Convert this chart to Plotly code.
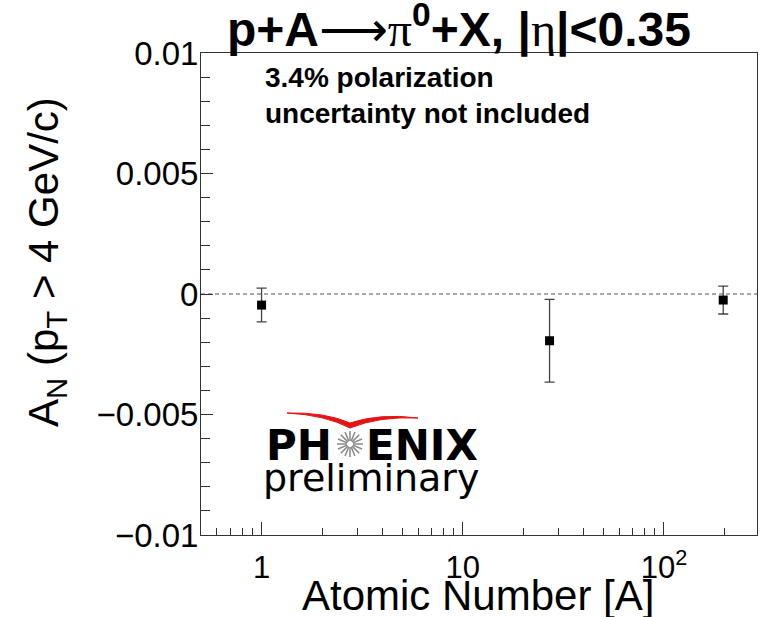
import math
import plotly.graph_objects as go

# ---- data ----
atomic_number = [1, 27, 197]
an_values = [-0.00046, -0.00194, -0.00025]
an_errors = [0.00070, 0.00172, 0.00058]

y_tickvals = [0.01, 0.005, 0, -0.005, -0.01]
y_ticktext = ["0.01", "0.005", "0", "\u22120.005", "\u22120.01"]
x_tickvals = [1, 10, 100]
x_ticktext = ["1", "10", "10<sup>2</sup>"]
x_minor_vals = [0.6, 0.7, 0.8, 0.9, 2, 3, 4, 5, 6, 7, 8, 9,
                20, 30, 40, 50, 60, 70, 80, 90, 200]
x_range = [0.5, 290]
y_range = [-0.01, 0.01]

W, H = 762, 617
L, R, T, B = 201, 5, 53, 82
PW, PH = W - L - R, H - T - B
FONT = "Liberation Sans, Arial, Helvetica, sans-serif"
SERIF = "Liberation Serif, Times New Roman, serif"


def px(xp):
    return (xp - L) / PW


def py(yp):
    return (H - B - yp) / PH


fig = go.Figure()
fig.add_trace(go.Scatter(
    x=atomic_number, y=an_values,
    mode="markers",
    marker=dict(symbol="square", size=9, color="black"),
    error_y=dict(type="data", array=an_errors, visible=True,
                 color="#444", thickness=1.3, width=5),
    showlegend=False,
))

shapes = []
# dashed zero line
shapes.append(dict(type="line", xref="paper", yref="y", x0=0, x1=1, y0=0, y1=0,
                   line=dict(color="#555", width=1, dash="4px,3px"), layer="below"))

# PHENIX logo: star burst
cx, cy, rad = 350, 444, 13
for k in range(16):
    a = math.pi * k / 8
    shapes.append(dict(type="line", xref="paper", yref="paper",
                       x0=px(cx + 3 * math.cos(a)), y0=py(cy + 3 * math.sin(a)),
                       x1=px(cx + rad * math.cos(a)), y1=py(cy + rad * math.sin(a)),
                       line=dict(color="#888", width=1.5)))
# red swoosh
path = "M {:.4f},{:.4f} Q {:.4f},{:.4f} {:.4f},{:.4f} Q {:.4f},{:.4f} {:.4f},{:.4f} " \
       "Q {:.4f},{:.4f} {:.4f},{:.4f} Q {:.4f},{:.4f} {:.4f},{:.4f} Z".format(
           px(287), py(413),
           px(325), py(412), px(350), py(423),
           px(380), py(413), px(418), py(418),
           px(380), py(416), px(350), py(428),
           px(325), py(415), px(287), py(413))
shapes.append(dict(type="path", xref="paper", yref="paper", path=path,
                   fillcolor="#e41414", line=dict(color="#e41414", width=1)))

title_text = ("<b>p+A</b><span style='font-family:DejaVu Sans'>\u27f6</span>"
              "<span style='font-family:" + SERIF + "'>\u03c0</span><b><sup>0</sup>+X, |</b>"
              "<span style='font-family:" + SERIF + "'>\u03b7</span><b>|<0.35</b>")

annotations = [
    dict(text=title_text,
         xref="paper", yref="paper", x=px(459), y=py(27), xanchor="center", yanchor="middle",
         showarrow=False, font=dict(family=FONT, size=48, color="black")),
    dict(text="<b>3.4% polarization<br>uncertainty not included</b>",
         xref="paper", yref="paper", x=px(263), y=py(95), xanchor="left", yanchor="middle",
         align="left", showarrow=False, font=dict(family=FONT, size=28, color="black")),
    dict(text="Atomic Number [A]", xref="paper", yref="paper", x=px(478), y=py(595),
         xanchor="center", yanchor="middle", showarrow=False,
         font=dict(family=FONT, size=42, color="black")),
    dict(text="A<sub>N</sub> (p<sub>T</sub> > 4 GeV/c)", xref="paper", yref="paper",
         x=px(46), y=py(262), xanchor="center", yanchor="middle", textangle=-90,
         showarrow=False, font=dict(family=FONT, size=42, color="black")),
    dict(text="<b>PH</b>", xref="paper", yref="paper", x=px(334), y=py(445),
         xanchor="right", yanchor="middle", showarrow=False,
         font=dict(family="DejaVu Sans", size=42, color="black")),
    dict(text="<b>ENIX</b>", xref="paper", yref="paper", x=px(364), y=py(445),
         xanchor="left", yanchor="middle", showarrow=False,
         font=dict(family="DejaVu Sans", size=42, color="black")),
    dict(text="preliminary", xref="paper", yref="paper", x=px(371), y=py(478),
         xanchor="center", yanchor="middle", showarrow=False,
         font=dict(family="DejaVu Sans", size=38, color="black")),
]

fig.update_layout(
    width=W, height=H,
    margin=dict(l=L, r=R, t=T, b=B, pad=0),
    paper_bgcolor="white", plot_bgcolor="white",
    shapes=shapes, annotations=annotations,
    xaxis=dict(
        type="log", range=[math.log10(x_range[0]), math.log10(x_range[1])],
        tickmode="array", tickvals=x_tickvals, ticktext=x_ticktext,
        ticks="inside", ticklen=13, tickwidth=1, tickcolor="#333",
        minor=dict(tickmode="array", tickvals=x_minor_vals, ticks="inside",
                   ticklen=7, tickwidth=1, tickcolor="#333", showgrid=False),
        showline=True, linecolor="#333", linewidth=1, mirror=True,
        showgrid=False, zeroline=False,
        tickfont=dict(family=FONT, size=31, color="black"),
        ticklabelstandoff=5,
    ),
    yaxis=dict(
        range=y_range,
        tickmode="array", tickvals=y_tickvals, ticktext=y_ticktext,
        ticks="inside", ticklen=12, tickwidth=1, tickcolor="#333",
        minor=dict(tickmode="linear", tick0=0, dtick=0.001, ticks="inside",
                   ticklen=9, tickwidth=1, tickcolor="#333", showgrid=False),
        showline=True, linecolor="#333", linewidth=1, mirror=True,
        showgrid=False, zeroline=False,
        tickfont=dict(family=FONT, size=33, color="black"),
        ticklabelstandoff=-5,
    ),
)

fig.write_html("out.html")
